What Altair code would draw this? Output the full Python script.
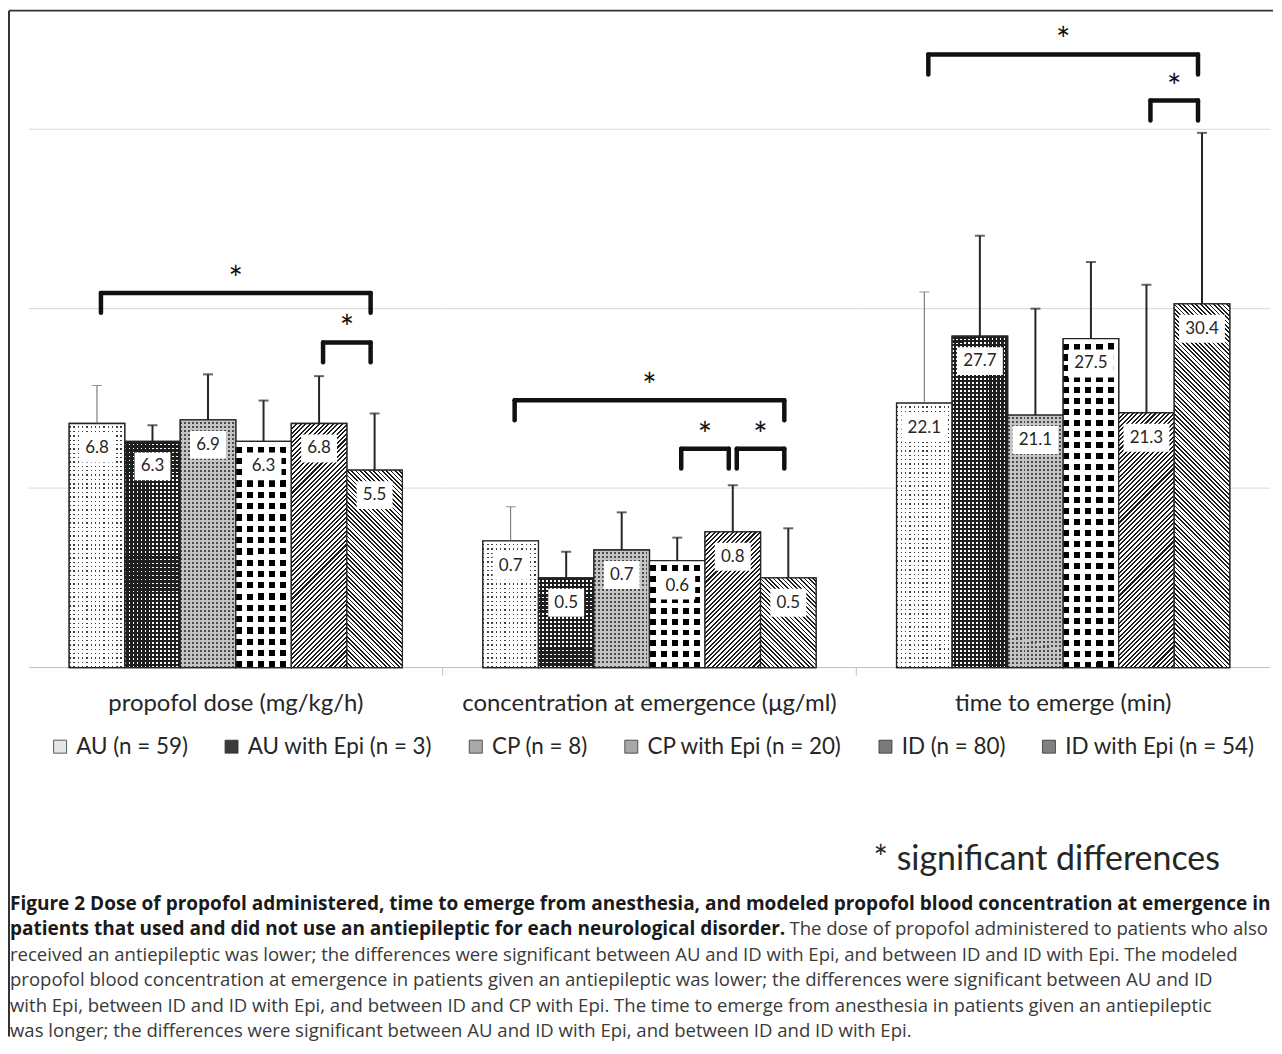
import altair as alt
import pandas as pd

# ---------------- data ----------------
categories = ["AU (n = 59)", "AU with Epi (n = 3)", "CP (n = 8)",
              "CP with Epi (n = 20)", "ID (n = 80)", "ID with Epi (n = 54)"]
group_titles = ["propofol dose (mg/kg/h)",
                "concentration at emergence (μg/ml)",
                "time to emerge (min)"]

dose_mean = [6.8, 6.3, 6.9, 6.3, 6.8, 5.5]
dose_sd = [1.06, 0.45, 1.27, 1.14, 1.32, 1.58]
conc_mean = [0.706, 0.5, 0.655, 0.596, 0.756, 0.5]
conc_sd = [0.19, 0.146, 0.21, 0.128, 0.26, 0.276]
time_mean = [22.1, 27.7, 21.1, 27.5, 21.3, 30.4]
time_sd = [9.3, 8.4, 8.9, 6.4, 10.7, 14.3]

# gridline values of each (unlabelled) value axis
dose_grid = [5, 10, 15]
conc_grid = [1, 2, 3]
time_grid = [15, 30, 45]

# significance brackets: (from index, to index, level in data units)
dose_br_from = [0, 4]
dose_br_to = [5, 5]
dose_br_level = [10.44, 9.06]
conc_br_from = [0, 3, 4]
conc_br_to = [5, 4, 5]
conc_br_level = [1.49, 1.22, 1.22]
time_br_from = [0, 4]
time_br_to = [5, 5]
time_br_level = [51.25, 47.4]

caption_bold = ["Figure 2 Dose of propofol administered, time to emerge from anesthesia, and modeled propofol blood concentration at emergence in",
                "patients that used and did not use an antiepileptic for each neurological disorder."]
caption_line2_rest = "The dose of propofol administered to patients who also"
caption_regular = ["received an antiepileptic was lower; the differences were significant between AU and ID with Epi, and between ID and ID with Epi. The modeled",
                   "propofol blood concentration at emergence in patients given an antiepileptic was lower; the differences were significant between AU and ID",
                   "with Epi, between ID and ID with Epi, and between ID and CP with Epi. The time to emerge from anesthesia in patients given an antiepileptic",
                   "was longer; the differences were significant between AU and ID with Epi, and between ID and ID with Epi."]
sig_note = "* significant differences"

# ---------------- styles ----------------
fills = ["#e6e6e6", "#3a3a3a", "#a9a9a9", "#a8a8a8", "#7a7a7a", "#808080"]
# dot-grid textures: category index -> (period px, dot fraction, dot colour, background)
dot_patterns = {0: (4.4, 0.32, "#404040", "#ffffff"),
                1: (4.0, 0.42, "#ffffff", "#1e1e1e"),
                2: (4.0, 0.5, "#4a4a4a", "#c4c4c4"),
                3: (11.1, 0.55, "#000000", "#ffffff")}
# hatch textures: category index -> (direction, period px, dark fraction)
hatch_patterns = {4: ("/", 4.6, 0.45), 5: ("\\", 4.4, 0.4)}

TXT = "#262626"
EDGE = "#262626"
PANEL_W = 415
PANEL_H = 648
PAD_OUTER = 0.725
FONT = "Lato"

legend = alt.Legend(title=None, orient="none", legendX=20, legendY=716,
                    direction="horizontal", symbolType="square", symbolSize=170,
                    symbolStrokeColor="#333333", symbolStrokeWidth=0.8,
                    labelFont=FONT, labelFontSize=22.5, labelColor=TXT, labelLimit=0,
                    labelOffset=5, columnPadding=32, symbolOpacity=1)


def periodic_stops(n, duty, c_on, c_off):
    stops = []
    for i in range(n):
        a, b, c = i / n, (i + duty) / n, (i + 1) / n
        stops += [{"offset": a, "color": c_on}, {"offset": b, "color": c_on},
                  {"offset": b, "color": c_off}, {"offset": c, "color": c_off}]
    return stops


def hatch_gradient(w, h, period, duty, direction):
    s = w + h
    k = s / (w * w + h * h)
    a, b = k * w, k * h
    n = max(1, round(s / period))
    stops = periodic_stops(n, duty, "#1c1c1c", "#ffffff")
    if direction == "/":
        return {"gradient": "linear", "x1": 0, "y1": 0, "x2": a, "y2": b, "stops": stops}
    return {"gradient": "linear", "x1": 0, "y1": 1, "x2": a, "y2": 1 - b, "stops": stops}


def panel(idx, means, sds, ymax, grid_vals, bfrom, bto, blevel, box_w):
    df = pd.DataFrame({"cat": categories, "mean": means, "sd": sds})
    df["top"] = df["mean"] + df["sd"]

    xs = alt.Scale(domain=categories, paddingInner=0, paddingOuter=PAD_OUTER)
    ys = alt.Scale(domain=[0, ymax], nice=False, zero=True)

    def X(f, **kw):
        return alt.X(f, scale=xs, axis=None, **kw)

    def Y(f):
        return alt.Y(f, scale=ys, axis=None)

    one = alt.Chart(pd.DataFrame({"k": [0]}))
    gdf = pd.DataFrame({"v": grid_vals})
    grid = alt.Chart(gdf).mark_rule(color="#d9d9d9", strokeWidth=1).encode(
        x=alt.value(0), x2=alt.value(PANEL_W), y=Y("v:Q"))
    baseline = one.mark_rule(color="#bfbfbf", strokeWidth=1).encode(
        x=alt.value(0), x2=alt.value(PANEL_W), y=alt.value(PANEL_H))
    title = one.mark_text(font=FONT, fontSize=24, color=TXT, align="center",
                          baseline="middle").encode(
        x=alt.value(PANEL_W / 2), y=alt.value(PANEL_H + 37),
        text=alt.value(group_titles[idx]))

    base = alt.Chart(df)
    bars = base.mark_bar(stroke=EDGE, strokeWidth=1.3).encode(
        x=X("cat:N"), y=Y("mean:Q"),
        color=alt.Color("cat:N", scale=alt.Scale(domain=categories, range=fills),
                        legend=legend),
    )

    band_w = PANEL_W / (6 + 2 * PAD_OUTER)
    vrecs, hrecs = [], []
    for ci, (period, dot, c_dot, c_bg) in dot_patterns.items():
        h = means[ci] * PANEL_H / ymax
        nv = max(1, round(band_w / period))
        nh = max(1, round(h / period))
        vrecs.append({"cat": categories[ci], "mean": means[ci],
                      "g": {"gradient": "linear", "x1": 0, "y1": 0, "x2": 1, "y2": 0,
                            "stops": periodic_stops(nv, dot, c_dot, c_bg)}})
        hrecs.append({"cat": categories[ci], "mean": means[ci],
                      "g": {"gradient": "linear", "x1": 0, "y1": 0, "x2": 0.0001, "y2": 1,
                            "stops": periodic_stops(nh, 1 - dot, c_bg, "transparent")}})
    tex_v = alt.Chart(alt.Data(values=vrecs)).mark_bar(strokeWidth=0).encode(
        x=X("cat:N"), y=Y("mean:Q"), fill=alt.Fill("g:N", scale=None))
    tex_h = alt.Chart(alt.Data(values=hrecs)).mark_bar(stroke=EDGE, strokeWidth=1.3).encode(
        x=X("cat:N"), y=Y("mean:Q"), fill=alt.Fill("g:N", scale=None))

    srecs = []
    for ci, (direction, period, duty) in hatch_patterns.items():
        h = means[ci] * PANEL_H / ymax
        srecs.append({"cat": categories[ci], "mean": means[ci],
                      "g": hatch_gradient(band_w, h, period, duty, direction)})
    hatched = alt.Chart(alt.Data(values=srecs)).mark_bar(
        stroke=EDGE, strokeWidth=1.3).encode(
        x=X("cat:N"), y=Y("mean:Q"), fill=alt.Fill("g:N", scale=None))

    err_thin = base.transform_filter(alt.datum.cat == categories[0]).mark_rule(
        color="#666666", strokeWidth=1).encode(x=X("cat:N"), y=Y("mean:Q"), y2="top:Q")
    err = base.transform_filter(alt.datum.cat != categories[0]).mark_rule(
        color=EDGE, strokeWidth=2).encode(x=X("cat:N"), y=Y("mean:Q"), y2="top:Q")
    cap_thin = base.transform_filter(alt.datum.cat == categories[0]).mark_tick(
        color="#666666", thickness=1, size=10).encode(x=X("cat:N"), y=Y("top:Q"))
    cap = base.transform_filter(alt.datum.cat != categories[0]).mark_tick(
        color=EDGE, thickness=2, size=10).encode(x=X("cat:N"), y=Y("top:Q"))

    hw = box_w / 20.0
    box_shape = f"M{-hw},-1.4H{hw}V1.4H{-hw}Z"
    boxes = base.mark_point(shape=box_shape, size=400, filled=True, fill="white",
                            strokeWidth=0, opacity=1, yOffset=25).encode(
        x=X("cat:N"), y=Y("mean:Q"))
    labels = base.mark_text(dy=25, font=FONT, fontSize=17, color=TXT,
                            baseline="middle").encode(
        x=X("cat:N"), y=Y("mean:Q"), text=alt.Text("mean:Q", format=".1f"))

    bdf = pd.DataFrame({
        "from": [categories[i] for i in bfrom],
        "to": [categories[j] for j in bto],
        "level": blevel,
        "mid": [categories[(i + j + 1) // 2] for i, j in zip(bfrom, bto)],
    })
    bb = alt.Chart(bdf)
    bstyle = dict(strokeWidth=4.5, color="#111111", strokeCap="round")
    hline = bb.mark_rule(xOffset=4, x2Offset=-4, **bstyle).encode(
        x=X("from:N"), x2="to:N", y=Y("level:Q"))
    lleg = bb.mark_rule(xOffset=4, y2Offset=20, **bstyle).encode(
        x=X("from:N"), y=Y("level:Q"), y2="level:Q")
    rleg = bb.mark_rule(xOffset=-4, y2Offset=20, **bstyle).encode(
        x=X("to:N"), y=Y("level:Q"), y2="level:Q")
    stars = bb.mark_text(text="*", font=FONT, fontSize=34, color="#111111",
                         baseline="alphabetic", dy=-2).encode(
        x=X("mid:N", bandPosition=0), y=Y("level:Q"))

    layers = [grid, baseline, title, bars, tex_v, tex_h, hatched, err_thin, err,
              cap_thin, cap, boxes, labels, hline, lleg, rleg, stars]

    if idx > 0:
        layers.append(one.mark_rule(color="#bfbfbf").encode(
            x=alt.value(0), y=alt.value(PANEL_H), y2=alt.value(PANEL_H + 8)))
    else:
        # figure frame (left and top border)
        layers.append(one.mark_rule(color="#333333", strokeWidth=2).encode(
            x=alt.value(-20), y=alt.value(-11), y2=alt.value(1018)))
        layers.append(one.mark_rule(color="#333333", strokeWidth=2).encode(
            x=alt.value(-20), x2=alt.value(1248), y=alt.value(-11)))
        # note and caption
        layers.append(one.mark_text(font=FONT, fontSize=34, color=TXT, align="center",
                                    baseline="middle").encode(
            x=alt.value(1021), y=alt.value(841), text=alt.value(sig_note)))
        layers.append(one.mark_text(font="Open Sans", fontSize=19.1, fontWeight="bold",
                                    color="#1a1a1a", align="left", baseline="middle",
                                    lineHeight=25.6).encode(
            x=alt.value(-19), y=alt.value(885), text=alt.value(caption_bold)))
        layers.append(one.mark_text(font="Open Sans", fontSize=18.6, color="#3a3a3a",
                                    align="right", baseline="middle").encode(
            x=alt.value(1243), y=alt.value(910.6), text=alt.value(caption_line2_rest)))
        layers.append(one.mark_text(font="Open Sans", fontSize=18.6, color="#3a3a3a",
                                    align="left", baseline="middle",
                                    lineHeight=25.6).encode(
            x=alt.value(-19), y=alt.value(936.2), text=alt.value(caption_regular)))

    return alt.layer(*layers).properties(width=PANEL_W, height=PANEL_H)


p1 = panel(0, dose_mean, dose_sd, 18, dose_grid, dose_br_from, dose_br_to, dose_br_level, 36)
p2 = panel(1, conc_mean, conc_sd, 3.6, conc_grid, conc_br_from, conc_br_to, conc_br_level, 36)
p3 = panel(2, time_mean, time_sd, 54, time_grid, time_br_from, time_br_to, time_br_level, 46)

chart = (
    alt.hconcat(p1, p2, p3, spacing=0, bounds="flush")
    .resolve_scale(color="shared")
    .properties(padding=0)
    .configure_view(stroke=None)
)

chart.save("out.html", embed_options={"renderer": "svg", "actions": False})
